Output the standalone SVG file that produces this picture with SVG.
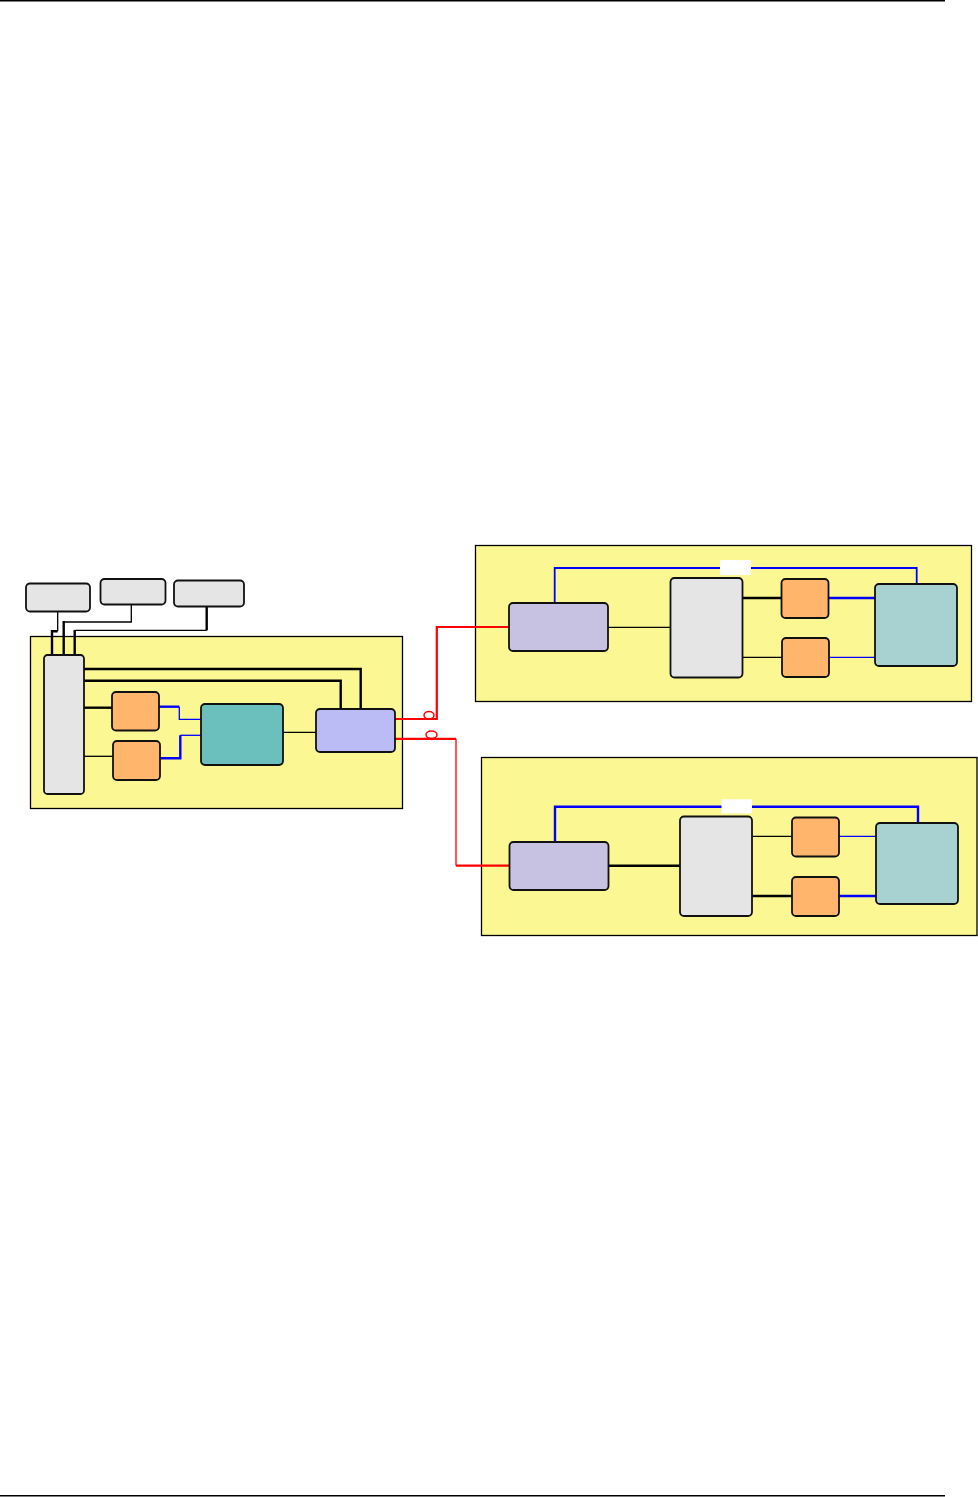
<svg xmlns="http://www.w3.org/2000/svg" width="978" height="1497" viewBox="0 0 978 1497">
<style>
.panel{fill:#FBF792;stroke:#000;stroke-width:1.3}
.box{stroke:#111;stroke-width:1.8}
.gray{fill:#E5E5E5}
.org{fill:#FFB56C}
.teal{fill:#6BBFBD}
.teal2{fill:#A7D2D1}
.lav{fill:#BBBBF6}
.lav2{fill:#C8C2E2}
.k{fill:none;stroke:#000;stroke-width:1.3}
.kb{fill:none;stroke:#000;stroke-width:2.4}
.b{fill:none;stroke:#0000FF;stroke-width:1.3}
.bm{fill:none;stroke:#0000FF;stroke-width:1.8}
.bb{fill:none;stroke:#0000FF;stroke-width:2.4}
.r{fill:none;stroke:#FF0000;stroke-width:2.2}
.rt{fill:none;stroke:#FF0000;stroke-width:1.3}
.lbl{fill:#fff;stroke:none}
</style>
<rect width="978" height="1497" fill="#fff"/>
<line x1="0" y1="0.8" x2="945" y2="0.8" stroke="#000" stroke-width="1.5"/>
<line x1="0" y1="1495.8" x2="945" y2="1495.8" stroke="#000" stroke-width="1.5"/>

<g id="panel-left"><rect class="panel" x="30.5" y="636.5" width="372" height="172"/></g>
<g id="panel-top-right"><rect class="panel" x="475.5" y="545.5" width="496" height="156"/></g>
<g id="panel-bottom-right"><rect class="panel" x="481.5" y="757.5" width="495.5" height="178"/></g>

<g id="connectors">
<polyline class="k" points="57.7,612 57.7,631.3"/>
<polyline class="kb" points="57.7,631.3 52,631.3 52,655"/>
<polyline class="k" points="131.3,604 131.3,622 63.7,622"/>
<polyline class="kb" points="63.7,621 63.7,655"/>
<polyline class="kb" points="206.7,607 206.7,630.3"/>
<polyline class="k" points="206.7,630.3 74.7,630.3"/>
<polyline class="kb" points="74.7,630 74.7,655"/>
<polyline class="kb" points="84,669 360.7,669 360.7,709"/>
<polyline class="kb" points="84,680.7 340.7,680.7 340.7,709"/>
<line class="kb" x1="82" y1="707.7" x2="112" y2="707.7"/>
<line class="k" x1="82" y1="756.3" x2="113" y2="756.3"/>
<polyline class="bb" points="159,706.7 179.3,706.7"/>
<polyline class="b" points="179.3,706.7 179.3,719.3 201,719.3"/>
<polyline class="bb" points="160,758.3 180.3,758.3 180.3,735.3"/>
<polyline class="b" points="180.3,735.3 201,735.3"/>
<line class="k" x1="283" y1="732.3" x2="316" y2="732.3"/>
<polyline class="r" points="395,719 436.8,719 436.8,627 509,627"/>
<polyline class="r" points="395,738.8 456,738.8"/>
<polyline class="rt" points="456,738.8 456,865.7"/>
<polyline class="r" points="456,865.7 509,865.7"/>
<ellipse cx="429" cy="715.3" rx="5" ry="3.7" fill="none" stroke="#FF0000" stroke-width="1.5"/>
<ellipse cx="431.5" cy="734.7" rx="5.5" ry="3.7" fill="none" stroke="#FF0000" stroke-width="1.5"/>
<polyline class="bm" points="554.7,603 554.7,568 916.7,568 916.7,584"/>
<rect class="lbl" x="720" y="560" width="31" height="15"/>
<line class="k" x1="608" y1="627.3" x2="670" y2="627.3"/>
<line class="kb" x1="740" y1="598" x2="781" y2="598"/>
<line class="k" x1="740" y1="657.3" x2="782" y2="657.3"/>
<line class="bb" x1="828" y1="598" x2="875" y2="598"/>
<line class="b" x1="829" y1="657.3" x2="875" y2="657.3"/>
<polyline class="bb" points="555,842 555,806.7 918,806.7 918,823"/>
<rect class="lbl" x="721.5" y="799.3" width="30.5" height="14"/>
<line class="kb" x1="606" y1="865.7" x2="680" y2="865.7"/>
<line class="k" x1="752" y1="836.3" x2="792" y2="836.3"/>
<line class="kb" x1="752" y1="896" x2="792" y2="896"/>
<line class="b" x1="839" y1="836.3" x2="876" y2="836.3"/>
<line class="bb" x1="839" y1="896" x2="876" y2="896"/>
</g>

<g id="ext1"><rect class="box gray" x="26" y="583.5" width="64" height="28" rx="4"/></g>
<g id="ext2"><rect class="box gray" x="100.5" y="579" width="65" height="25.5" rx="4"/></g>
<g id="ext3"><rect class="box gray" x="174" y="580.5" width="70" height="26" rx="4"/></g>

<g id="L-gray"><rect class="box gray" x="44" y="655" width="40" height="139" rx="3.5"/></g>
<g id="L-org1"><rect class="box org" x="112" y="692" width="47" height="38.5" rx="4"/></g>
<g id="L-org2"><rect class="box org" x="113" y="741" width="47" height="39" rx="4"/></g>
<g id="L-teal"><rect class="box teal" x="201" y="704" width="82" height="61" rx="4"/></g>
<g id="L-lav"><rect class="box lav" x="316" y="709" width="79" height="43" rx="4"/></g>

<g id="TR-lav"><rect class="box lav2" x="509" y="603" width="99" height="48" rx="4"/></g>
<g id="TR-gray"><rect class="box gray" x="670.5" y="578" width="72" height="99.5" rx="4"/></g>
<g id="TR-org1"><rect class="box org" x="781.5" y="579" width="47" height="39" rx="4"/></g>
<g id="TR-org2"><rect class="box org" x="782" y="638" width="47" height="39" rx="4"/></g>
<g id="TR-teal"><rect class="box teal2" x="875" y="584" width="82" height="82" rx="4"/></g>

<g id="BR-lav"><rect class="box lav2" x="509.5" y="842" width="99" height="48" rx="4"/></g>
<g id="BR-gray"><rect class="box gray" x="680" y="816.5" width="72" height="99.5" rx="4"/></g>
<g id="BR-org1"><rect class="box org" x="792" y="817.5" width="47" height="39" rx="4"/></g>
<g id="BR-org2"><rect class="box org" x="792" y="877" width="47" height="39" rx="4"/></g>
<g id="BR-teal"><rect class="box teal2" x="876" y="823" width="82" height="81" rx="4"/></g>
</svg>
